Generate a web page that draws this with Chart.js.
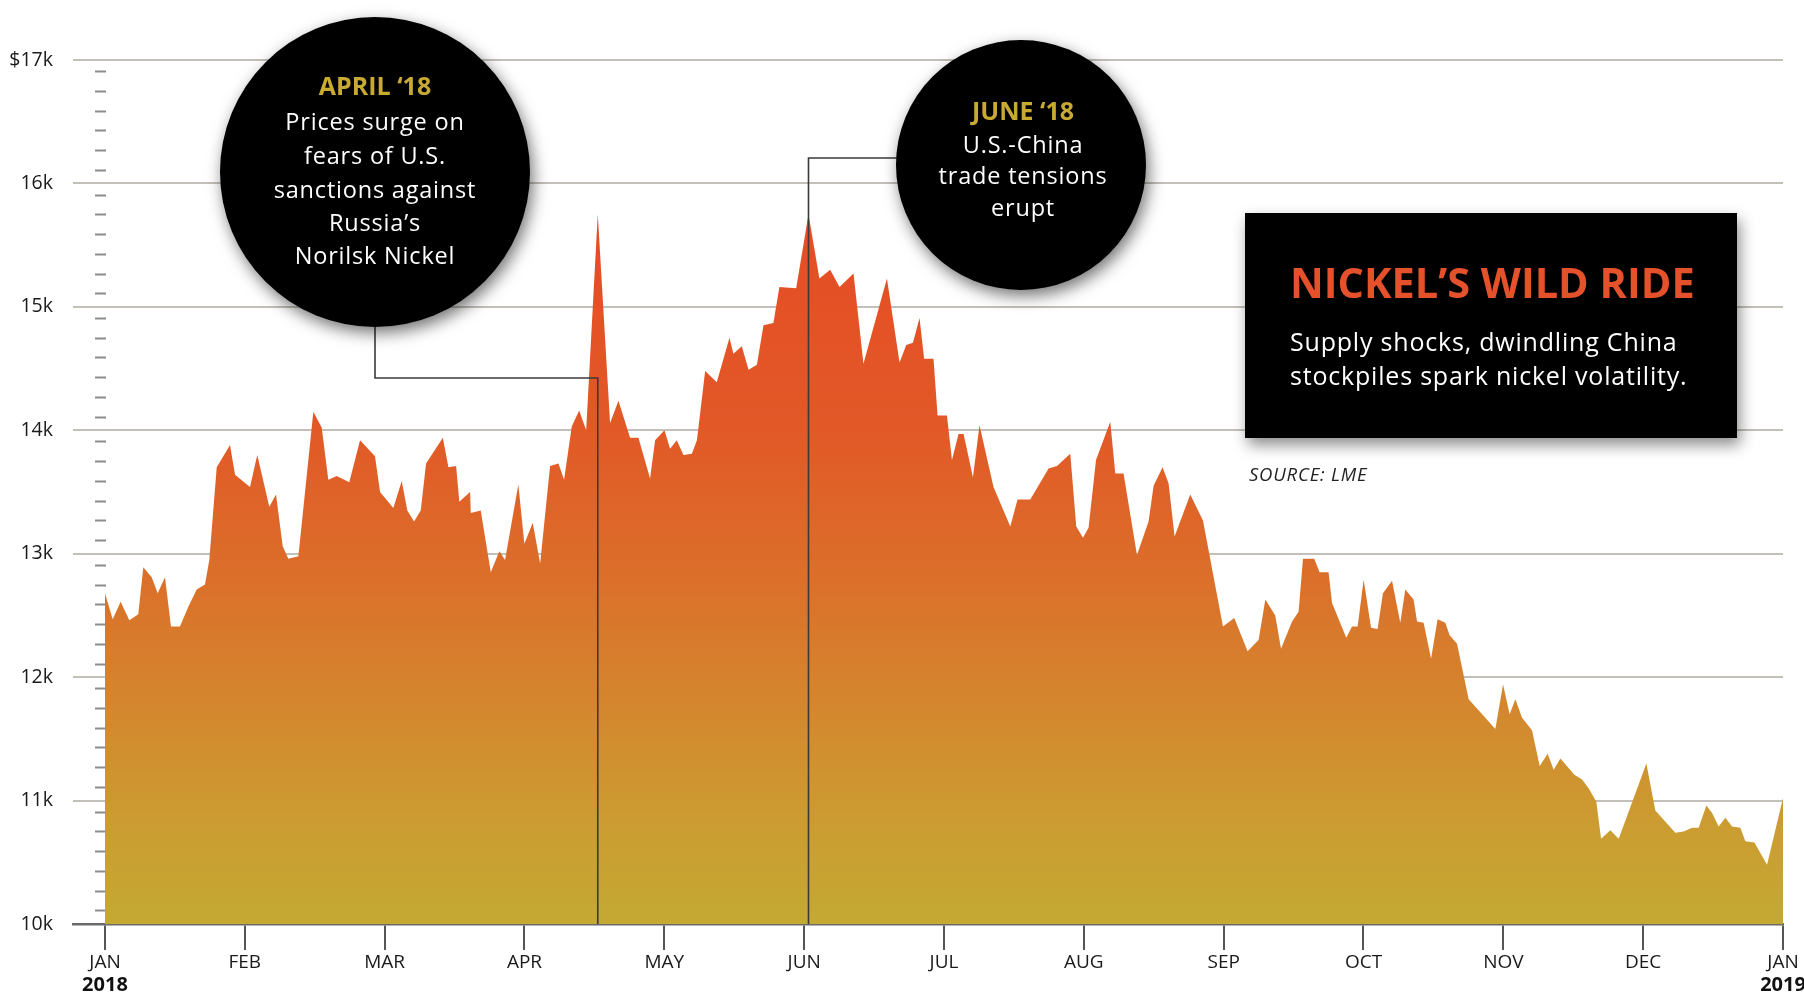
<!DOCTYPE html>
<html>
<head>
<meta charset="utf-8">
<style>
  html, body { margin: 0; padding: 0; background: #fff; }
</style>
</head>
<body>
<canvas id="nickelChart" width="1804" height="994"></canvas>
<script src="https://cdn.jsdelivr.net/npm/chart.js"></script>
<script>
// LME nickel, 2018. x = months since Jan 1 2018, y = price in $ thousands
const monthPos = [
  0, 0.055, 0.112, 0.174, 0.238, 0.274, 0.334, 0.377, 0.429, 0.472, 0.536, 0.596, 0.656, 0.715, 0.746,
  0.799, 0.894, 0.930, 1.037, 1.089, 1.175, 1.223, 1.271, 1.311, 1.383, 1.490, 1.550, 1.597, 1.657, 1.747,
  1.824, 1.931, 1.967, 2.062, 2.122, 2.162, 2.210, 2.258, 2.296, 2.416, 2.456, 2.511, 2.534, 2.611, 2.616,
  2.687, 2.759, 2.820, 2.861, 2.956, 2.999, 3.059, 3.112, 3.183, 3.243, 3.283, 3.338, 3.391, 3.441, 3.524,
  3.612, 3.672, 3.755, 3.815, 3.898, 3.934, 4.001, 4.041, 4.089, 4.137, 4.197, 4.233, 4.292, 4.375, 4.466,
  4.494, 4.554, 4.602, 4.662, 4.709, 4.780, 4.823, 4.943, 5.031, 5.109, 5.186, 5.253, 5.353, 5.424, 5.592,
  5.682, 5.730, 5.778, 5.825, 5.858, 5.925, 5.954, 6.021, 6.057, 6.104, 6.140, 6.207, 6.254, 6.354, 6.474,
  6.526, 6.617, 6.748, 6.808, 6.903, 6.946, 6.994, 7.034, 7.087, 7.189, 7.225, 7.284, 7.380, 7.463, 7.499,
  7.563, 7.606, 7.649, 7.761, 7.852, 7.995, 8.076, 8.171, 8.250, 8.298, 8.369, 8.410, 8.489, 8.536, 8.567,
  8.648, 8.686, 8.750, 8.775, 8.877, 8.918, 8.958, 9.001, 9.054, 9.101, 9.139, 9.204, 9.263, 9.299, 9.358,
  9.383, 9.430, 9.483, 9.530, 9.585, 9.616, 9.669, 9.752, 9.943, 9.998, 10.045, 10.086, 10.134, 10.205, 10.260,
  10.317, 10.360, 10.408, 10.508, 10.563, 10.610, 10.665, 10.699, 10.765, 10.825, 11.023, 11.087, 11.230, 11.290, 11.350,
  11.397, 11.452, 11.493, 11.540, 11.588, 11.636, 11.695, 11.731, 11.796, 11.886, 12
];
const priceK = [
  12.68, 12.47, 12.61, 12.46, 12.51, 12.89, 12.81, 12.68, 12.81, 12.41, 12.41, 12.57, 12.71, 12.75, 12.95,
  13.70, 13.88, 13.64, 13.54, 13.80, 13.38, 13.48, 13.06, 12.96, 12.98, 14.15, 14.02, 13.60, 13.63, 13.58,
  13.92, 13.79, 13.50, 13.37, 13.59, 13.35, 13.26, 13.35, 13.73, 13.94, 13.70, 13.71, 13.42, 13.50, 13.33,
  13.35, 12.85, 13.02, 12.95, 13.56, 13.08, 13.25, 12.92, 13.71, 13.73, 13.60, 14.03, 14.16, 14.00, 15.75,
  14.06, 14.24, 13.94, 13.94, 13.61, 13.92, 14.00, 13.85, 13.92, 13.80, 13.81, 13.92, 14.48, 14.39, 14.75,
  14.62, 14.68, 14.49, 14.53, 14.85, 14.87, 15.16, 15.15, 15.75, 15.23, 15.30, 15.16, 15.27, 14.54, 15.23,
  14.55, 14.69, 14.71, 14.91, 14.58, 14.58, 14.12, 14.12, 13.76, 13.97, 13.97, 13.62, 14.04, 13.54, 13.22,
  13.44, 13.44, 13.69, 13.71, 13.81, 13.22, 13.13, 13.21, 13.76, 14.07, 13.65, 13.65, 12.99, 13.26, 13.55,
  13.70, 13.57, 13.14, 13.48, 13.27, 12.41, 12.48, 12.21, 12.30, 12.63, 12.50, 12.23, 12.45, 12.53, 12.96,
  12.96, 12.85, 12.85, 12.60, 12.32, 12.41, 12.41, 12.79, 12.40, 12.39, 12.68, 12.78, 12.44, 12.71, 12.63,
  12.45, 12.44, 12.15, 12.47, 12.44, 12.34, 12.27, 11.82, 11.58, 11.94, 11.70, 11.82, 11.67, 11.57, 11.28,
  11.38, 11.25, 11.34, 11.21, 11.17, 11.10, 10.99, 10.69, 10.76, 10.69, 11.30, 10.92, 10.74, 10.75, 10.78,
  10.78, 10.96, 10.90, 10.79, 10.86, 10.79, 10.78, 10.67, 10.66, 10.48, 11.02
];
const monthLabels = ['JAN', 'FEB', 'MAR', 'APR', 'MAY', 'JUN', 'JUL', 'AUG', 'SEP', 'OCT', 'NOV', 'DEC', 'JAN'];
const yearLabels = { 0: '2018', 12: '2019' };
const yTicks = [10, 11, 12, 13, 14, 15, 16, 17];

const FONT = '"Open Sans", sans-serif';
const GOLD = '#c8a932';
const RED = '#e5512a';

// month index of the highest price inside a window
function peakIn(from, to) {
  let best = -1;
  monthPos.forEach((m, i) => {
    if (m >= from && m <= to && (best < 0 || priceK[i] > priceK[best])) best = i;
  });
  return monthPos[best];
}

function bubble(ctx, cx, cy, r) {
  ctx.save();
  ctx.shadowColor = 'rgba(0,0,0,0.55)';
  ctx.shadowBlur = 16;
  ctx.shadowOffsetX = 3;
  ctx.shadowOffsetY = 6;
  ctx.fillStyle = '#000';
  ctx.beginPath();
  ctx.arc(cx, cy, r, 0, Math.PI * 2);
  ctx.fill();
  ctx.restore();
}

function lines(ctx, x, rows, align) {
  ctx.textAlign = align || 'center';
  ctx.textBaseline = 'middle';
  rows.forEach(r => {
    ctx.font = r.font;
    ctx.letterSpacing = r.ls || '0px';
    ctx.fillStyle = r.color;
    ctx.fillText(r.text, x, r.y);
  });
  ctx.letterSpacing = '0px';
}

const decor = {
  id: 'decor',
  beforeDatasetsDraw(chart) {
    // small dashes between the gridlines
    const { ctx, scales: { y } } = chart;
    ctx.save();
    ctx.strokeStyle = '#8c8c8c';
    ctx.lineWidth = 2;
    for (let v = yTicks[0]; v < yTicks[yTicks.length - 1]; v++) {
      for (let k = 0; k < 6; k++) {
        const py = Math.round(y.getPixelForValue(v + 0.11 + k * 0.16)) + 0.5;
        ctx.beginPath();
        ctx.moveTo(95, py);
        ctx.lineTo(106, py);
        ctx.stroke();
      }
    }
    ctx.restore();
  },
  afterDatasetsDraw(chart) {
    const { ctx, scales: { x, y } } = chart;
    const aprX = x.getPixelForValue(peakIn(3, 4));
    const junX = x.getPixelForValue(peakIn(4.5, 5.5));
    const base = y.getPixelForValue(10);

    // connector lines
    ctx.save();
    ctx.strokeStyle = '#3a3a3a';
    ctx.lineWidth = 1.6;
    ctx.beginPath();
    ctx.moveTo(375, 300);
    ctx.lineTo(375, 378);
    ctx.lineTo(aprX, 378);
    ctx.lineTo(aprX, base);
    ctx.moveTo(950, 158);
    ctx.lineTo(junX, 158);
    ctx.lineTo(junX, base);
    ctx.stroke();
    ctx.restore();

    // callout bubbles
    bubble(ctx, 375, 172, 155);
    bubble(ctx, 1021, 165, 125);

    ctx.save();
    const head = 'bold 25px ' + FONT;
    const body = '23.5px ' + FONT;
    const sp = '0.8px';
    lines(ctx, 375, [
      { text: 'APRIL \u201818', y: 88, font: head, color: GOLD },
      { text: 'Prices surge on', y: 123, font: body, color: '#fff', ls: sp },
      { text: 'fears of U.S.', y: 157, font: body, color: '#fff', ls: sp },
      { text: 'sanctions against', y: 191, font: body, color: '#fff', ls: sp },
      { text: 'Russia\u2019s', y: 224, font: body, color: '#fff', ls: sp },
      { text: 'Norilsk Nickel', y: 257, font: body, color: '#fff', ls: sp }
    ]);
    lines(ctx, 1023, [
      { text: 'JUNE \u201818', y: 113, font: head, color: GOLD },
      { text: 'U.S.-China', y: 146, font: body, color: '#fff', ls: sp },
      { text: 'trade tensions', y: 177, font: body, color: '#fff', ls: sp },
      { text: 'erupt', y: 209, font: body, color: '#fff', ls: sp }
    ]);
    ctx.restore();

    // title box
    ctx.save();
    ctx.shadowColor = 'rgba(0,0,0,0.45)';
    ctx.shadowBlur = 14;
    ctx.shadowOffsetX = 3;
    ctx.shadowOffsetY = 7;
    ctx.fillStyle = '#000';
    ctx.fillRect(1245, 213, 492, 225);
    ctx.restore();

    ctx.save();
    lines(ctx, 1290, [
      { text: 'NICKEL\u2019S WILD RIDE', y: 286, font: 'bold 41.5px ' + FONT, color: RED },
      { text: 'Supply shocks, dwindling China', y: 344, font: '25px ' + FONT, color: '#fff', ls: sp },
      { text: 'stockpiles spark nickel volatility.', y: 378, font: '25px ' + FONT, color: '#fff', ls: sp }
    ], 'left');
    lines(ctx, 1249, [
      { text: 'SOURCE: LME', y: 476, font: 'italic 18.5px ' + FONT, color: '#222', ls: sp }
    ], 'left');
    ctx.restore();
  },
  afterDraw(chart) {
    const { ctx, scales: { x } } = chart;
    ctx.save();
    ctx.font = 'bold 20px ' + FONT;
    ctx.fillStyle = '#111';
    ctx.textAlign = 'center';
    ctx.textBaseline = 'middle';
    Object.keys(yearLabels).forEach(m => {
      ctx.fillText(yearLabels[m], x.getPixelForValue(+m), 985);
    });
    ctx.restore();
  }
};

Chart.defaults.font.family = FONT;
Chart.defaults.color = '#1a1a1a';

const ctx = document.getElementById('nickelChart').getContext('2d');
new Chart(ctx, {
  type: 'line',
  data: {
    datasets: [{
      label: 'Nickel',
      data: monthPos.map((m, i) => ({ x: m, y: priceK[i] })),
      borderWidth: 0,
      pointRadius: 0,
      tension: 0,
      fill: 'start',
      backgroundColor: (c) => {
        const area = c.chart.chartArea;
        if (!area) return '#d87a2c';
        const ys = c.chart.scales.y;
        const g = c.chart.ctx.createLinearGradient(0, ys.getPixelForValue(15.8), 0, ys.getPixelForValue(10));
        g.addColorStop(0, '#e64c25');
        g.addColorStop(0.3, '#e25827');
        g.addColorStop(0.5, '#dc6d2a');
        g.addColorStop(0.7, '#d4872e');
        g.addColorStop(0.85, '#cc9b31');
        g.addColorStop(1, '#c4a933');
        return g;
      }
    }]
  },
  options: {
    responsive: false,
    animation: false,
    events: [],
    layout: { padding: { top: 60, right: 21, left: 0, bottom: 0 } },
    plugins: { legend: { display: false }, tooltip: { enabled: false } },
    scales: {
      x: {
        type: 'linear',
        min: -0.2288,
        max: 12,
        afterBuildTicks: s => { s.ticks = monthLabels.map((_, i) => ({ value: i })); },
        afterFit: s => { s.height = 70; },
        grid: { drawOnChartArea: false, drawTicks: true, tickLength: 26, color: '#555', lineWidth: 2 },
        border: { display: true, color: '#6a6a6a', width: 2.5 },
        ticks: {
          autoSkip: false,
          maxRotation: 0,
          padding: 1,
          font: { size: 19 },
          color: '#1a1a1a',
          callback: v => monthLabels[v]
        }
      },
      y: {
        min: yTicks[0],
        max: yTicks[yTicks.length - 1],
        afterBuildTicks: s => { s.ticks = yTicks.map(v => ({ value: v })); },
        afterFit: s => { s.width = 73; },
        grid: { drawTicks: false, color: '#c3bfb9', lineWidth: 2 },
        border: { display: false },
        ticks: {
          padding: 20,
          font: { size: 19.5 },
          color: '#1a1a1a',
          callback: v => (v === 17 ? '$17k' : v + 'k')
        }
      }
    }
  },
  plugins: [decor]
});
</script>
</body>
</html>
